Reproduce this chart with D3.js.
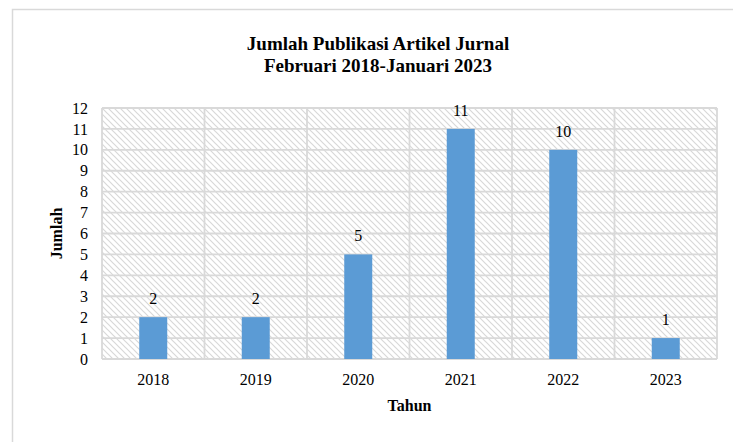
<!DOCTYPE html>
<html><head><meta charset="utf-8">
<script src="https://cdn.jsdelivr.net/npm/d3@7"></script>
<style>body{margin:0;background:#fff}svg{display:block}</style>
</head><body>
<svg id="c" width="733" height="442"></svg>
<script>
const categories = ["2018","2019","2020","2021","2022","2023"];
const values = [2,2,5,11,10,1];
const yTicks = [0,1,2,3,4,5,6,7,8,9,10,11,12];
const titleLines = ["Jumlah Publikasi Artikel Jurnal","Februari 2018-Januari 2023"];

const svg = d3.select("#c");
const font = "Liberation Serif, Times New Roman, serif";
const grid = "#d9d9d9";

// outer frame
svg.append("path").attr("d","M12.5,442 V9.5 H733").attr("fill","none").attr("stroke",grid).attr("stroke-width",1.5);

const m = {l:102, r:717, t:108, b:359};
const x = d3.scaleBand().domain(categories).range([m.l,m.r]).paddingInner(0).paddingOuter(0);
const y = d3.scaleLinear().domain([0,12]).range([m.b,m.t]);

const defs = svg.append("defs");
const pat = defs.append("pattern").attr("id","hatch").attr("patternUnits","userSpaceOnUse")
  .attr("width",6).attr("height",6);
pat.append("path").attr("d","M-1,-1 L7,7 M-7,-1 L1,7 M5,-1 L13,7").attr("stroke","#d8d8d8").attr("stroke-width",1.2);

svg.append("rect").attr("x",m.l).attr("y",m.t).attr("width",m.r-m.l).attr("height",m.b-m.t).attr("fill","url(#hatch)");

// horizontal gridlines
svg.append("g").selectAll("line").data(yTicks).join("line")
  .attr("x1",m.l).attr("x2",m.r).attr("y1",d=>y(d)).attr("y2",d=>y(d))
  .attr("stroke",grid).attr("stroke-width",1.8);
// vertical gridlines at category boundaries
const bounds = categories.map(c=>x(c)).concat([m.r]);
svg.append("g").selectAll("line").data(bounds).join("line")
  .attr("x1",d=>d).attr("x2",d=>d).attr("y1",m.t).attr("y2",m.b)
  .attr("stroke",grid).attr("stroke-width",1.8);

// bars
const bw = 28;
svg.append("g").selectAll("rect").data(values).join("rect")
  .attr("x",(d,i)=>x(categories[i])+x.bandwidth()/2-bw/2)
  .attr("width",bw)
  .attr("y",d=>y(d)).attr("height",d=>y(0)-y(d))
  .attr("fill","#5b9bd5");

// value labels
svg.append("g").selectAll("text").data(values).join("text")
  .attr("x",(d,i)=>x(categories[i])+x.bandwidth()/2)
  .attr("y",d=>y(d)-13)
  .attr("text-anchor","middle").attr("font-family",font).attr("font-size",16).attr("fill","#000")
  .text(d=>d);

// y axis labels
const yAxis = d3.axisLeft(y).tickValues(yTicks).tickSize(0).tickPadding(14);
const ga = svg.append("g").attr("transform",`translate(${m.l},0)`).call(yAxis);
ga.select(".domain").remove();
ga.selectAll("text").attr("font-family",font).attr("font-size",16).attr("fill","#000");

// x axis labels
const xAxis = d3.axisBottom(x).tickSize(0).tickPadding(0);
const gx = svg.append("g").attr("transform",`translate(0,${m.b})`).call(xAxis);
gx.select(".domain").remove();
gx.selectAll("text").attr("font-family",font).attr("font-size",16).attr("fill","#000").attr("dy",null).attr("y",26);

// titles
svg.append("g").selectAll("text").data(titleLines).join("text")
  .attr("x",378).attr("y",(d,i)=>50+i*22)
  .attr("text-anchor","middle").attr("font-family",font).attr("font-size",19).attr("font-weight","bold")
  .text(d=>d);

svg.append("text").attr("x",(m.l+m.r)/2).attr("y",411).attr("text-anchor","middle")
  .attr("font-family",font).attr("font-size",16).attr("font-weight","bold").text("Tahun");
svg.append("text").attr("transform",`translate(62,${(m.t+m.b)/2}) rotate(-90)`).attr("text-anchor","middle")
  .attr("font-family",font).attr("font-size",16).attr("font-weight","bold").text("Jumlah");
</script>
</body></html>
